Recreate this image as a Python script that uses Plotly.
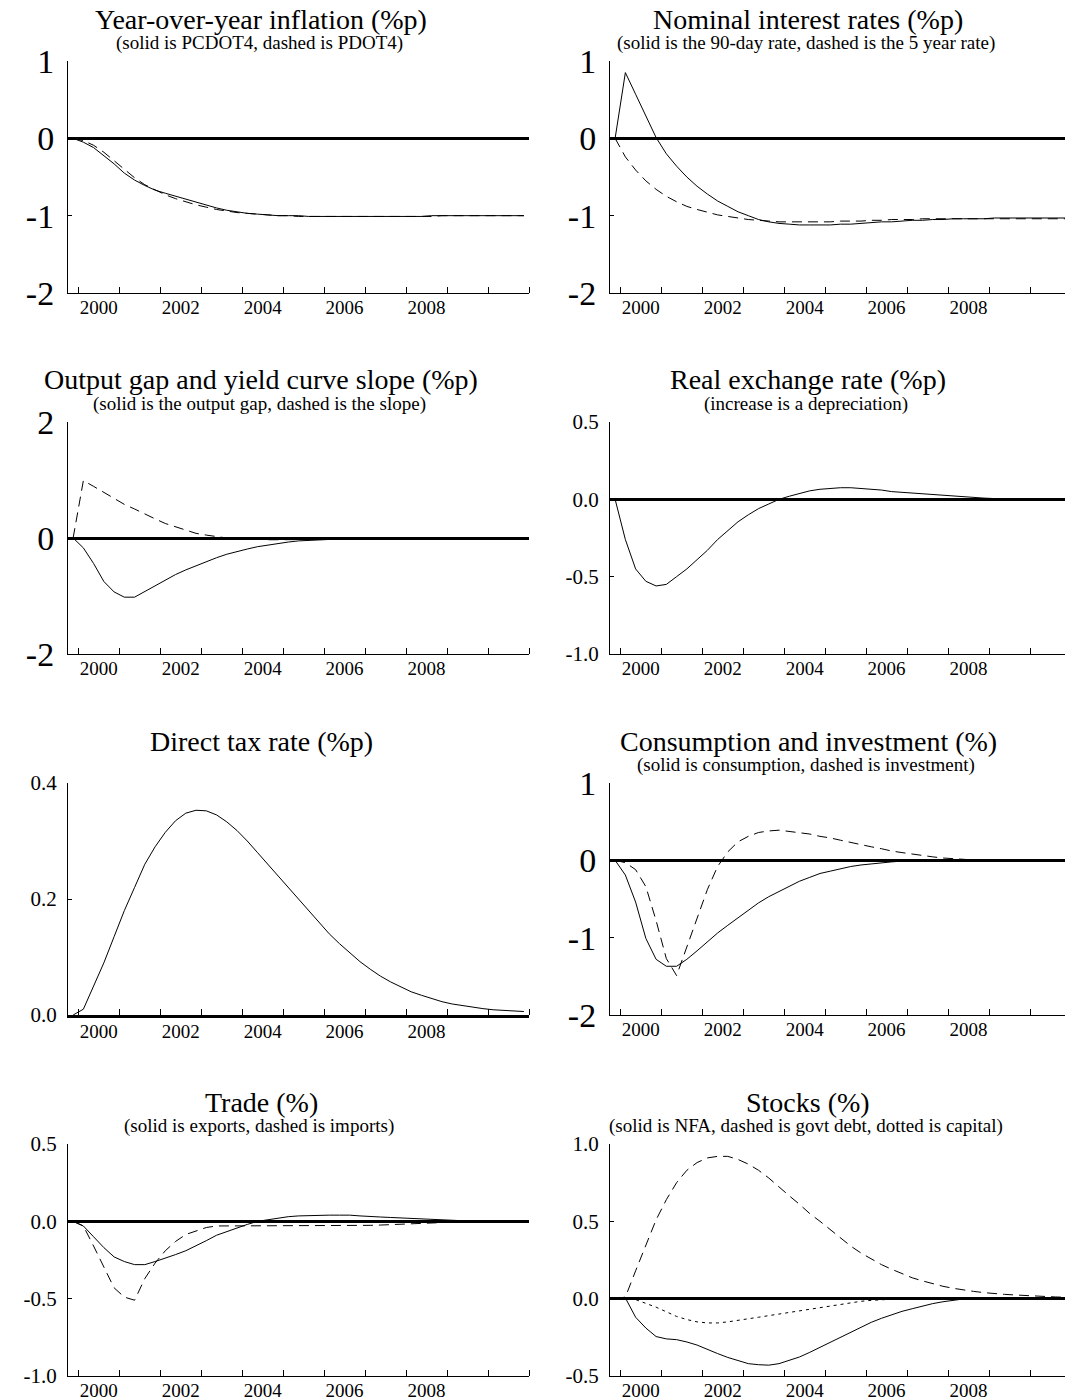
import pandas as pd
import plotly.graph_objects as go

# ---------------- data ----------------
quarters = pd.period_range("1999Q4", "2010Q4", freq="Q")   # 45 quarters
label_years = [2000, 2002, 2004, 2006, 2008]
tick_years = list(range(2000, 2012))

infl_pcdot4 = [0.00, -0.05, -0.12, -0.22, -0.33, -0.45, -0.54, -0.61, -0.67, -0.71,
               -0.75, -0.79, -0.83, -0.87, -0.90, -0.93, -0.95, -0.97, -0.98, -0.99,
               -1.00, -1.00, -1.00, -1.01, -1.01, -1.01, -1.01, -1.01, -1.01, -1.01,
               -1.01, -1.01, -1.01, -1.01, -1.01, -1.00, -1.00, -1.00, -1.00, -1.00,
               -1.00, -1.00, -1.00, -1.00, -1.00]
infl_pdot4 = [0.00, -0.03, -0.09, -0.18, -0.29, -0.40, -0.51, -0.60, -0.67, -0.73,
              -0.78, -0.82, -0.86, -0.89, -0.92, -0.94, -0.96, -0.97, -0.98, -0.99,
              -1.00, -1.00, -1.01, -1.01, -1.01, -1.01, -1.01, -1.01, -1.01, -1.01,
              -1.01, -1.01, -1.01, -1.01, -1.01, -1.01, -1.00, -1.00, -1.00, -1.00,
              -1.00, -1.00, -1.00, -1.00, -1.00]

rate_90day = [0.00, 0.85, 0.57, 0.29, 0.01, -0.20, -0.36, -0.50, -0.62, -0.72,
              -0.81, -0.88, -0.95, -1.00, -1.05, -1.08, -1.10, -1.11, -1.12, -1.12,
              -1.12, -1.12, -1.11, -1.11, -1.10, -1.09, -1.08, -1.08, -1.07, -1.06,
              -1.06, -1.05, -1.05, -1.04, -1.04, -1.04, -1.04, -1.03, -1.03, -1.03,
              -1.03, -1.03, -1.03, -1.03, -1.03]
rate_5yr = [0.00, -0.24, -0.41, -0.55, -0.66, -0.75, -0.82, -0.88, -0.92, -0.96,
            -0.99, -1.01, -1.03, -1.05, -1.06, -1.07, -1.08, -1.08, -1.08, -1.08,
            -1.08, -1.08, -1.07, -1.07, -1.07, -1.06, -1.06, -1.05, -1.05, -1.05,
            -1.04, -1.04, -1.04, -1.04, -1.04, -1.04, -1.04, -1.04, -1.04, -1.04,
            -1.04, -1.04, -1.04, -1.04, -1.04]

output_gap = [0.00, -0.17, -0.44, -0.75, -0.93, -1.02, -1.02, -0.92, -0.82, -0.72,
              -0.63, -0.55, -0.48, -0.40, -0.34, -0.28, -0.23, -0.19, -0.15, -0.12,
              -0.09, -0.07, -0.05, -0.04, -0.03, -0.02, -0.01, -0.01, 0.00, 0.00,
              0.00, 0.00, 0.00, 0.00, 0.00, 0.00, 0.00, 0.00, 0.00, 0.00,
              0.00, 0.00, 0.00, 0.00, 0.00]
yield_slope = [0.00, 0.99, 0.89, 0.79, 0.68, 0.58, 0.50, 0.41, 0.33, 0.25,
               0.19, 0.13, 0.08, 0.05, 0.02, 0.00, -0.01, -0.02, -0.02, -0.03,
               -0.03, -0.03, -0.03, -0.03, -0.03, -0.03, -0.02, -0.02, -0.02, -0.01,
               -0.01, -0.01, 0.00, 0.00, 0.00, 0.00, 0.00, 0.00, 0.00, 0.00,
               0.00, 0.00, 0.00, 0.00, 0.00]

real_exch = [0.00, -0.26, -0.45, -0.53, -0.56, -0.55, -0.50, -0.45, -0.39, -0.33,
             -0.26, -0.20, -0.145, -0.10, -0.06, -0.03, 0.00, 0.02, 0.04, 0.055,
             0.065, 0.07, 0.075, 0.075, 0.07, 0.065, 0.06, 0.05, 0.045, 0.04,
             0.035, 0.03, 0.025, 0.02, 0.015, 0.01, 0.008, 0.005, 0.003, 0.002,
             0.001, 0.0, 0.0, 0.0, 0.0]

direct_tax = [0.0, 0.01, 0.05, 0.09, 0.135, 0.18, 0.22, 0.26, 0.29, 0.315,
              0.335, 0.348, 0.353, 0.352, 0.345, 0.333, 0.318, 0.30, 0.28, 0.26,
              0.24, 0.22, 0.20, 0.18, 0.16, 0.14, 0.123, 0.107, 0.092, 0.079,
              0.067, 0.057, 0.048, 0.04, 0.034, 0.028, 0.023, 0.019, 0.016, 0.013,
              0.011, 0.009, 0.008, 0.007, 0.006]

consumption = [0.00, -0.19, -0.54, -1.01, -1.28, -1.37, -1.37, -1.28, -1.17, -1.05,
               -0.94, -0.84, -0.74, -0.64, -0.55, -0.47, -0.40, -0.33, -0.27, -0.22,
               -0.17, -0.14, -0.11, -0.08, -0.06, -0.045, -0.03, -0.02, -0.01, -0.005,
               0.0, 0.0, 0.0, 0.0, 0.0, 0.0, 0.0, 0.0, 0.0, 0.0,
               0.0, 0.0, 0.0, 0.0, 0.0]
investment = [0.00, -0.03, -0.12, -0.34, -0.78, -1.27, -1.49, -1.12, -0.73, -0.38,
              -0.08, 0.11, 0.24, 0.31, 0.36, 0.38, 0.39, 0.375, 0.36, 0.34,
              0.31, 0.29, 0.26, 0.23, 0.20, 0.175, 0.15, 0.12, 0.10, 0.08,
              0.06, 0.045, 0.03, 0.02, 0.01, 0.005, 0.0, -0.005, -0.01, -0.01,
              -0.01, -0.01, -0.005, 0.0, 0.0]

exports = [0.00, -0.03, -0.10, -0.17, -0.23, -0.26, -0.28, -0.28, -0.26, -0.24,
           -0.215, -0.19, -0.16, -0.125, -0.09, -0.065, -0.04, -0.02, 0.00, 0.01,
           0.02, 0.03, 0.035, 0.038, 0.04, 0.04, 0.04, 0.04, 0.035, 0.03,
           0.028, 0.025, 0.022, 0.018, 0.014, 0.01, 0.008, 0.006, 0.004, 0.003,
           0.002, 0.001, 0.0, 0.0, 0.0]
imports = [0.00, -0.03, -0.16, -0.30, -0.43, -0.49, -0.51, -0.37, -0.27, -0.19,
           -0.13, -0.085, -0.06, -0.04, -0.03, -0.03, -0.03, -0.03, -0.03, -0.03,
           -0.03, -0.03, -0.03, -0.03, -0.03, -0.03, -0.03, -0.03, -0.028, -0.026,
           -0.024, -0.022, -0.02, -0.017, -0.014, -0.011, -0.008, -0.005, -0.003, -0.002,
           -0.001, 0.0, 0.0, 0.0, 0.0]

nfa = [0.00, 0.005, -0.12, -0.19, -0.245, -0.26, -0.265, -0.28, -0.30, -0.33,
       -0.355, -0.38, -0.40, -0.42, -0.427, -0.43, -0.42, -0.40, -0.377, -0.347,
       -0.315, -0.28, -0.248, -0.215, -0.183, -0.153, -0.127, -0.103, -0.082, -0.065,
       -0.047, -0.032, -0.02, -0.009, -0.002, 0.0, 0.002, 0.003, 0.004, 0.004,
       0.004, 0.004, 0.003, 0.003, 0.003]
govt_debt = [0.00, 0.01, 0.18, 0.35, 0.51, 0.64, 0.75, 0.83, 0.88, 0.91,
             0.92, 0.92, 0.90, 0.87, 0.83, 0.78, 0.72, 0.665, 0.61, 0.55,
             0.50, 0.445, 0.39, 0.34, 0.295, 0.256, 0.22, 0.19, 0.16, 0.135,
             0.115, 0.095, 0.08, 0.067, 0.056, 0.047, 0.039, 0.032, 0.028, 0.024,
             0.02, 0.017, 0.014, 0.011, 0.009]
capital = [0.0, 0.0, -0.006, -0.03, -0.055, -0.085, -0.115, -0.135, -0.15, -0.157,
           -0.157, -0.15, -0.142, -0.13, -0.12, -0.11, -0.10, -0.088, -0.078, -0.067,
           -0.056, -0.045, -0.035, -0.026, -0.017, -0.011, -0.006, -0.003, 0.0, 0.0,
           0.0, 0.0, 0.0, 0.0, 0.0, 0.0, 0.0, 0.0, 0.0, 0.0,
           0.0, 0.0, 0.0, 0.0, 0.0]

titles = ["Year-over-year inflation (%p)", "Nominal interest rates (%p)",
          "Output gap and yield curve slope (%p)", "Real exchange rate (%p)",
          "Direct tax rate (%p)", "Consumption and investment (%)",
          "Trade (%)", "Stocks (%)"]
subtitles = ["(solid is PCDOT4, dashed is PDOT4)",
             "(solid is the 90-day rate, dashed is the 5 year rate)",
             "(solid is the output gap, dashed is the slope)",
             "(increase is a depreciation)",
             "",
             "(solid is consumption, dashed is investment)",
             "(solid is exports, dashed is imports)",
             "(solid is NFA, dashed is govt debt, dotted is capital)"]
series = [[(infl_pcdot4, "solid"), (infl_pdot4, "dash")],
          [(rate_90day, "solid"), (rate_5yr, "dash")],
          [(output_gap, "solid"), (yield_slope, "dash")],
          [(real_exch, "solid")],
          [(direct_tax, "solid")],
          [(consumption, "solid"), (investment, "dash")],
          [(exports, "solid"), (imports, "dash")],
          [(nfa, "solid"), (govt_debt, "dash"), (capital, "dot")]]
y_ranges = [[-2, 1], [-2, 1], [-2, 2], [-1, 0.5], [0, 0.4], [-2, 1], [-1, 0.5], [-0.5, 1.0]]
y_ticks = [[-2, -1, 0, 1], [-2, -1, 0, 1], [-2, 0, 2], [-1, -0.5, 0, 0.5],
           [0, 0.2, 0.4], [-2, -1, 0, 1], [-1, -0.5, 0, 0.5], [-0.5, 0, 0.5, 1.0]]
y_ticktext = [["-2", "-1", "0", "1"], ["-2", "-1", "0", "1"], ["-2", "0", "2"],
              ["-1.0", "-0.5", "0.0", "0.5"], ["0.0", "0.2", "0.4"],
              ["-2", "-1", "0", "1"], ["-1.0", "-0.5", "0.0", "0.5"],
              ["-0.5", "0.0", "0.5", "1.0"]]

# ---------------- layout / styles ----------------
W, H = 1065, 1399
FONT = "Liberation Serif, Times New Roman, serif"
DASH = {"solid": "solid", "dash": "10px,6px", "dot": "3px,4px"}
col_px = [(68, 529), (610, 1065)]
row_top = [61, 422, 783, 1144]
row_h = 232
px_per_year = (529 - 68) / 11.25
title_x = [261, 808]

# quarter midpoints as decimal years
t = [p.year + (p.quarter - 1) / 4 + 0.125 for p in quarters]
label_pos = [y + 0.5 for y in label_years]

fig = go.Figure()
annotations = []
for k in range(8):
    r, c = divmod(k, 2)
    n = k + 1
    xa = "x" if n == 1 else f"x{n}"
    ya = "y" if n == 1 else f"y{n}"
    for vals, sty in series[k]:
        fig.add_trace(go.Scatter(x=t, y=vals, mode="lines", xaxis=xa, yaxis=ya,
                                 line=dict(color="black", width=1, dash=DASH[sty]),
                                 showlegend=False, hoverinfo="skip"))
    l, rr = col_px[c]
    top = row_top[r]
    x_end = 1999.75 + (rr - l) / px_per_year
    is_int = all(float(v).is_integer() for v in y_ticks[k]) and k != 4
    fig.layout[f"xaxis{'' if n == 1 else n}"] = dict(
        domain=[l / W, rr / W], anchor=ya, range=[1999.75, x_end], automargin=False,
        showline=True, linecolor="black", linewidth=(2.5 if k == 4 else 1),
        showgrid=False, zeroline=False,
        tickmode="array", tickvals=label_pos, ticktext=[str(y) for y in label_years],
        ticks="", tickfont=dict(family=FONT, size=19, color="black"),
        ticklabelstandoff=-3,
        minor=dict(tickmode="array", tickvals=tick_years, ticks="inside",
                   ticklen=6, tickwidth=1, tickcolor="black", showgrid=False),
    )
    fig.layout[f"yaxis{'' if n == 1 else n}"] = dict(
        domain=[1 - (top + row_h) / H, 1 - top / H], anchor=xa, range=y_ranges[k],
        automargin=False,
        showline=True, linecolor="black", linewidth=1, showgrid=False,
        zeroline=True, zerolinecolor="black", zerolinewidth=3,
        tickmode="array", tickvals=y_ticks[k], ticktext=y_ticktext[k],
        ticks="inside", ticklen=4, tickwidth=1, tickcolor="black",
        tickfont=dict(family=FONT, size=(34 if is_int else 21), color="black"),
        ticklabelstandoff=6,
    )
    annotations.append(dict(text=titles[k], x=title_x[c] / W, y=1 - (top - 42) / H,
                            xref="paper", yref="paper", xanchor="center", yanchor="middle",
                            showarrow=False, font=dict(family=FONT, size=28, color="black")))
    if subtitles[k]:
        annotations.append(dict(text=subtitles[k], x=(title_x[c] - 2) / W, y=1 - (top - 18) / H,
                                xref="paper", yref="paper", xanchor="center", yanchor="middle",
                                showarrow=False, font=dict(family=FONT, size=19, color="black")))

fig.update_layout(template="none", width=W, height=H, margin=dict(l=0, r=0, t=0, b=0),
                  paper_bgcolor="white", plot_bgcolor="white",
                  annotations=annotations, showlegend=False)
fig.write_html("out.html")
